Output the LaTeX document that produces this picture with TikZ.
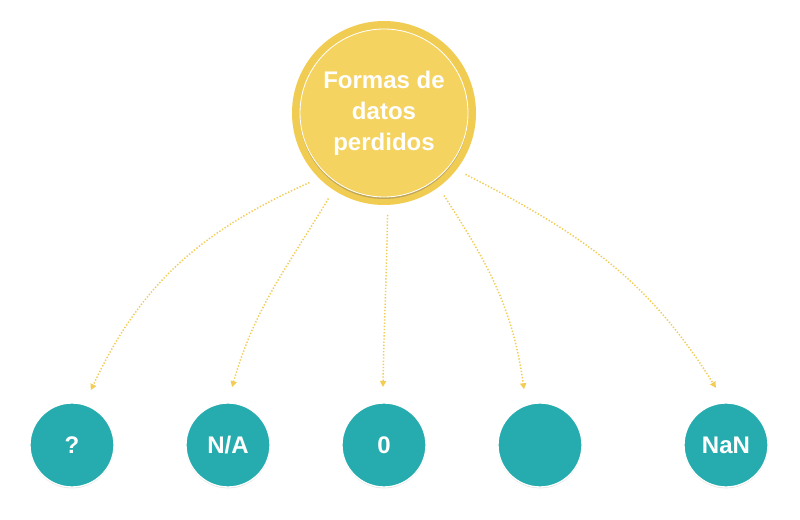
\documentclass[tikz,border=0pt]{standalone}
\usepackage{fontspec}
\setmainfont{Liberation Sans}
\usetikzlibrary{arrows.meta,shadows}
\definecolor{sunout}{RGB}{241,204,82}
\definecolor{sunin}{RGB}{244,211,96}
\definecolor{teal}{RGB}{38,172,174}
\definecolor{dots}{RGB}{242,204,84}
\begin{document}
\begin{tikzpicture}[x=0.3mm, y=0.3mm, node distance={46.8mm},
  root/.style = {circle, fill=sunin, draw=white, line width=0.25mm, minimum size=50.4mm, inner sep=0pt, outer sep=5.4mm, align=center,
    preaction={draw=sunout, line width=4.8mm},
    drop shadow={shadow xshift=0mm, shadow yshift=-0.6mm, opacity=0.35, fill=black!60},
    text=white, font=\fontsize{20.5pt}{26.4pt}\selectfont\bfseries},
  leaf/.style = {circle, fill=teal, draw=white, line width=0.4mm, minimum size=25.2mm, inner sep=0pt, outer sep=4.8mm,
    drop shadow={shadow xshift=0mm, shadow yshift=-0.4mm, opacity=0.2, fill=black!60},
    text=white, font=\fontsize{20.5pt}{24pt}\selectfont\bfseries},
  link/.style = {draw=dots, line width=0.45mm, dash pattern=on 0.4mm off 0.55mm, -{Triangle[length=1.8mm, width=1.8mm]}}]
\useasboundingbox (0,0) rectangle (800,520);
\node[root] (root) at (384,407) {Formas de\\datos\\perdidos};
\node[leaf] (3) [below of=root, node distance=99.6mm] {0};
\node[leaf] (2) [left of=3] {N/A};
\node[leaf] (1) [left of=2] {?};
\node[leaf] (4) [right of=3] {};
\node[leaf] (5) [right of=4, node distance=55.8mm] {NaN};
\draw[link] (root.223) to[out=204, in=65] (1.71);
\draw[link] (root.237) to[out=239, in=74] (2.86);
\draw[link] (root.272) to[out=269, in=89] (3.91);
\draw[link] (root.306) to[out=303, in=98] (4.106);
\draw[link] (root.323) to[out=333, in=122] (5.100);
\end{tikzpicture}
\end{document}
